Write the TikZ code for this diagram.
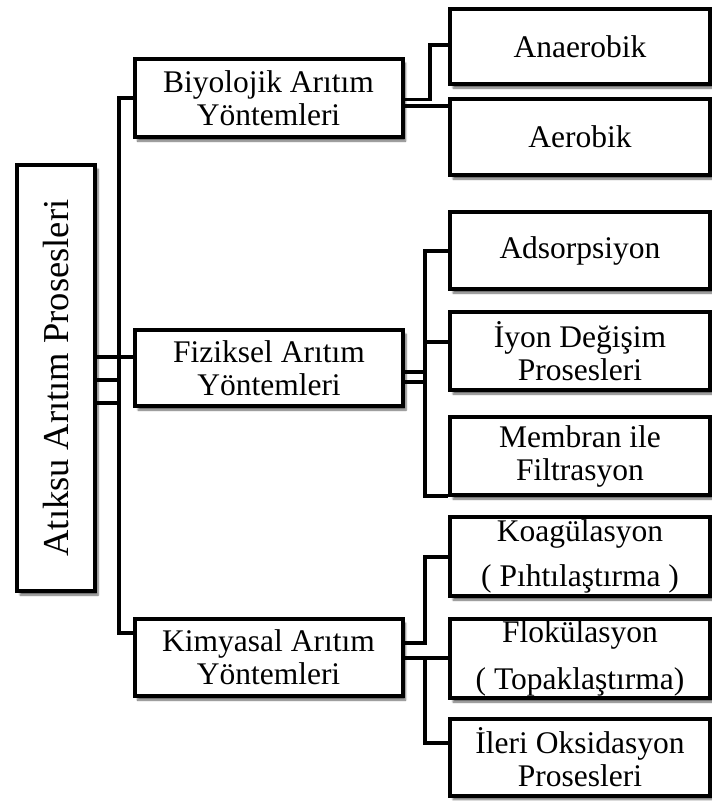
\documentclass[tikz,border=0pt]{standalone}
\usepackage{fontspec}
\usepackage{graphicx}
\setmainfont{Liberation Serif}
\usetikzlibrary{shadows.blur}
\tikzset{
  box/.style={draw=black, line width=4pt, fill=white, align=center, inner sep=0pt,
    font=\fontsize{31.5}{33}\selectfont,
    blur shadow={shadow xshift=3pt, shadow yshift=-4pt, shadow blur steps=6, shadow opacity=60}},
  midbox/.style={box, minimum width=268pt, minimum height=77pt},
  leafbox/.style={box, minimum width=260pt, minimum height=77pt},
  wire/.style={draw=black, line width=3.5pt, line join=miter}
}
\begin{document}
\begin{tikzpicture}[x=1pt,y=-1pt]
\useasboundingbox (0,0) rectangle (712,801);
% nodes
\node[box, minimum width=78pt, minimum height=426pt] (root) at (56,378)
  {\rotatebox{90}{\fontsize{36.5}{40}\selectfont Atıksu Arıtım Prosesleri}};
\node[midbox, minimum height=78pt] (bio) at (268.5,98) {Biyolojik Arıtım\\Yöntemleri};
\node[midbox, minimum height=76pt] (fiz) at (269,368) {Fiziksel Arıtım\\Yöntemleri};
\node[midbox] (kim) at (268.5,657.5) {Kimyasal Arıtım\\Yöntemleri};
\node[leafbox, minimum height=75pt] (ana) at (580,46.5) {Anaerobik};
\node[leafbox, minimum height=76pt] (aer) at (580,137) {Aerobik};
\node[leafbox] (ads) at (580,250.5) {Adsorpsiyon};
\node[leafbox, minimum height=78pt] (iyon) at (580,351) {İyon Değişim\\Prosesleri};
\node[leafbox, minimum height=78pt] (mem) at (580,456) {Membran ile\\Filtrasyon};
\node[leafbox, minimum height=79pt, font=\fontsize{31.5}{45}\selectfont] (koa) at (580,556.5) {Koagülasyon\\( Pıhtılaştırma )};
\node[leafbox, minimum height=79pt, font=\fontsize{31.5}{47}\selectfont] (flo) at (580,658.5) {Flokülasyon\\( Topaklaştırma)};
\node[leafbox] (ile) at (580,757) {İleri Oksidasyon\\Prosesleri};
% junction coordinates
\coordinate (tTop) at (119,98);
\coordinate (tBot) at (119,633);
\coordinate (j1) at (119,357);
\coordinate (j2) at (119,380);
\coordinate (j3) at (119,403);
\coordinate (b1) at (430,99.5);
\coordinate (b1t) at (430,45);
\coordinate (b2) at (420,106);
\coordinate (f1) at (425,372);
\coordinate (f2) at (425,382);
\coordinate (fTop) at (425,251);
\coordinate (fMid) at (425,342);
\coordinate (fBot) at (425,496);
\coordinate (k1) at (425,643);
\coordinate (k1t) at (425,557);
\coordinate (k2) at (425,658);
\coordinate (kBot) at (425,743);
% connectors
\begin{scope}[on background layer/.style={}]
\draw[wire] (bio.west) -- (tTop) -- (tBot) -- (tBot -| kim.west);
\draw[wire] (root.east |- j1) -- (j1) -- (j1 -| fiz.west);
\draw[wire] (root.east |- j2) -- (j2);
\draw[wire] (root.east |- j3) -- (j3);
\draw[wire] (bio.east |- b1) -- (b1) -- (b1t) -- (b1t -| ana.west);
\draw[wire] (bio.east |- b2) -- (b2 -| aer.west);
\draw[wire] (fiz.east |- f1) -- (f1);
\draw[wire] (fiz.east |- f2) -- (f2);
\draw[wire] (fTop -| ads.west) -- (fTop) -- (fBot) -- (fBot -| mem.west);
\draw[wire] (fMid) -- (fMid -| iyon.west);
\draw[wire] (kim.east |- k1) -- (k1) -- (k1t) -- (k1t -| koa.west);
\draw[wire] (kim.east |- k2) -- (k2 -| flo.west);
\draw[wire] (k2) -- (kBot) -- (kBot -| ile.west);
\end{scope}
\end{tikzpicture}
\end{document}
